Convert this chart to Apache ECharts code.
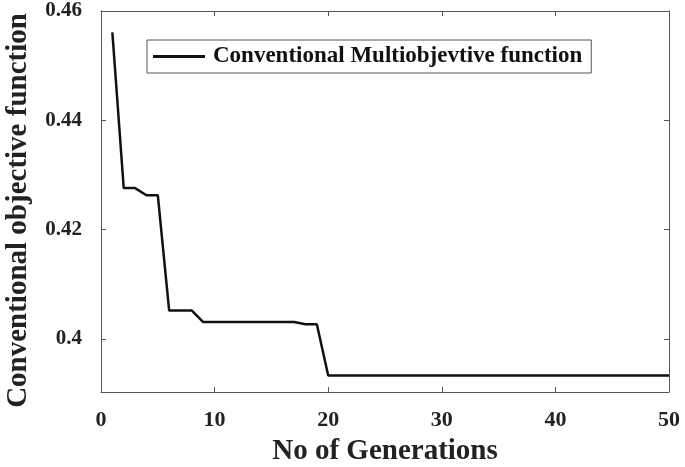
<!DOCTYPE html>
<html><head><meta charset="utf-8">
<script src="https://cdn.jsdelivr.net/npm/echarts@6/dist/echarts.min.js"></script>
<style>html,body{margin:0;padding:0;background:#fff}#c{width:685px;height:467px}</style>
</head><body><div id="c"></div>
<script>
const generations = [1,2,3,4,5,6,7,8,9,10,11,12,13,14,15,16,17,18,19,20,21,22,23,24,25,26,27,28,29,30,31,32,33,34,35,36,37,38,39,40,41,42,43,44,45,46,47,48,49,50];
const objective = [0.4561,0.4276,0.4276,0.4263,0.4263,0.4052,0.4052,0.4052,0.4031,0.4031,0.4031,0.4031,0.4031,0.4031,0.4031,0.4031,0.4031,0.4027,0.4027,0.3933,0.3933,0.3933,0.3933,0.3933,0.3933,0.3933,0.3933,0.3933,0.3933,0.3933,0.3933,0.3933,0.3933,0.3933,0.3933,0.3933,0.3933,0.3933,0.3933,0.3933,0.3933,0.3933,0.3933,0.3933,0.3933,0.3933,0.3933,0.3933,0.3933,0.3933];
const yTicks = [0.4, 0.42, 0.44, 0.46];
const xTicks = [0, 10, 20, 30, 40, 50];
const seriesName = 'Conventional Multiobjevtive function';

const font = '"Liberation Serif", "Times New Roman", serif';
const axisCol = '#555';
const chart = echarts.init(document.getElementById('c'), null, {renderer: 'canvas'});
const baseX = {
  type: 'value', min: 0, max: 50, interval: 10,
  axisLine: {show: true, onZero: false, lineStyle: {color: axisCol, width: 1}},
  axisTick: {show: true, inside: true, length: 5, customValues: xTicks, lineStyle: {color: axisCol}},
  splitLine: {show: false}
};
const baseY = {
  type: 'value', min: 0.3903, max: 0.46,
  axisLine: {show: true, onZero: false, lineStyle: {color: axisCol, width: 1}},
  axisTick: {show: true, inside: true, length: 5, customValues: yTicks, lineStyle: {color: axisCol}},
  splitLine: {show: false}
};
chart.setOption({
  animation: false,
  grid: {left: 101, right: 16, top: 11, bottom: 75, containLabel: false, outerBoundsMode: 'none'},
  legend: {
    show: true, top: 40, left: 147, itemWidth: 52, itemHeight: 3, itemGap: 0,
    padding: [5, 9, 5, 6],
    borderColor: '#555', borderWidth: 1, backgroundColor: '#fff',
    icon: 'rect',
    textStyle: {fontFamily: font, fontWeight: 'bold', fontSize: 23, color: '#111', padding: [0,0,0,3]},
    data: [{name: seriesName, icon: 'rect'}]
  },
  xAxis: [
    Object.assign({}, baseX, {
      position: 'bottom',
      name: 'No of Generations', nameLocation: 'middle', nameGap: 45,
      nameTextStyle: {fontFamily: font, fontWeight: 'bold', fontSize: 29, color: '#222'},
      axisLabel: {show: true, margin: 17, customValues: xTicks, fontFamily: font, fontWeight: 'bold', fontSize: 22, color: '#222'}
    }),
    Object.assign({}, baseX, {position: 'top', axisLabel: {show: false}})
  ],
  yAxis: [
    Object.assign({}, baseY, {
      position: 'left',
      name: 'Conventional objective function', nameLocation: 'middle', nameGap: 68, nameRotate: 90,
      nameTextStyle: {fontFamily: font, fontWeight: 'bold', fontSize: 29, color: '#222', padding: [0, 18, 0, 0]},
      axisLabel: {show: true, margin: 19, customValues: yTicks, fontFamily: font, fontWeight: 'bold', fontSize: 21, color: '#222',
        formatter: v => String(+v.toFixed(2))}
    }),
    Object.assign({}, baseY, {position: 'right', axisLabel: {show: false}})
  ],
  series: [{
    name: seriesName, type: 'line', xAxisIndex: 0, yAxisIndex: 0,
    data: generations.map((g, i) => [g, objective[i]]),
    showSymbol: false, symbol: 'none',
    lineStyle: {color: '#111', width: 2.5},
    itemStyle: {color: '#111'}
  }]
});
</script></body></html>
